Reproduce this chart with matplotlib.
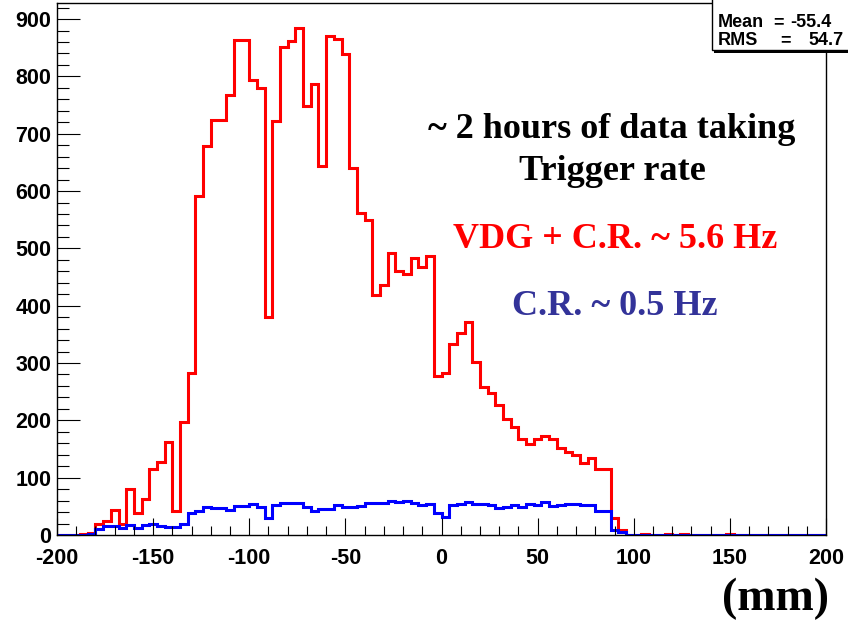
import numpy as np
import matplotlib
matplotlib.use("Agg")
import matplotlib.pyplot as plt
from matplotlib.patches import Rectangle
from matplotlib.ticker import MultipleLocator

# ---- data (4 mm bins from -200 to 200 mm) ----
x_min, x_max, bin_width = -200, 200, 4
red_counts = [0, 0, 0, 2, 4, 20, 24, 44, 20, 81,
              38, 62, 116, 128, 162, 42, 197, 282, 592, 679,
              724, 724, 768, 863, 863, 793, 779, 381, 722, 852,
              862, 884, 749, 787, 643, 871, 865, 839, 640, 562,
              550, 419, 436, 492, 461, 455, 484, 467, 486, 278,
              282, 333, 353, 372, 301, 259, 247, 226, 202, 189,
              167, 158, 167, 172, 167, 152, 144, 140, 126, 134,
              115, 115, 29, 9, 0, 0, 2, 0, 0, 2,
              0, 2, 0, 0, 0, 0, 0, 2, 0, 0,
              0, 0, 0, 0, 0, 0, 0, 0, 0, 0]
blue_counts = [0, 0, 0, 0, 2, 10, 16, 15, 13, 17,
               12, 17, 20, 16, 14, 14, 20, 38, 41, 48,
               47, 47, 44, 51, 51, 54, 48, 30, 52, 55,
               55, 55, 48, 42, 46, 46, 52, 48, 48, 51,
               56, 56, 56, 60, 57, 60, 55, 52, 54, 39,
               32, 52, 54, 58, 54, 54, 52, 47, 48, 52,
               48, 54, 52, 58, 51, 52, 54, 54, 52, 52,
               41, 41, 9, 6, 0, 0, 0, 0, 0, 0,
               0, 0, 0, 0, 0, 0, 0, 0, 0, 0,
               0, 0, 0, 0, 0, 0, 0, 0, 0, 0]
y_max = 928
x_ticks = [-200, -150, -100, -50, 0, 50, 100, 150, 200]
y_ticks = [0, 100, 200, 300, 400, 500, 600, 700, 800, 900]
stat_labels = ["Mean", "RMS"]
stat_values = ["-55.4", "54.7"]
annotations = ["~ 2 hours of data taking", "Trigger rate",
               "VDG + C.R. ~ 5.6 Hz", "C.R. ~ 0.5 Hz"]
x_unit = "(mm)"

W, H = 848, 620
fig = plt.figure(figsize=(W / 100, H / 100), dpi=100)
ax = fig.add_axes([57 / W, 1 - 535 / H, (826 - 57) / W, (535 - 3) / H])

edges = np.arange(x_min, x_max + bin_width, bin_width)
ax.stairs(red_counts, edges, color="#ff0000", lw=2.2, baseline=0)
ax.stairs(blue_counts, edges, color="#0000ff", lw=2.2, baseline=0)

ax.set_xlim(x_min, x_max)
ax.set_ylim(0, y_max)
ax.set_xticks(x_ticks)
ax.set_yticks(y_ticks)
ax.xaxis.set_minor_locator(MultipleLocator(10))
ax.yaxis.set_minor_locator(MultipleLocator(20))
tick_font = dict(family="Liberation Sans", weight="bold", size=15.5)
ax.set_xticklabels([str(t) for t in x_ticks], fontdict=tick_font)
ax.set_yticklabels([str(t) for t in y_ticks], fontdict=tick_font)
ax.tick_params(axis="x", which="major", direction="in", length=12.2, width=0.8, pad=9)
ax.tick_params(axis="x", which="minor", direction="in", length=6.5, width=0.8)
ax.tick_params(axis="y", which="major", direction="in", length=16.6, width=0.8, pad=4)
ax.tick_params(axis="y", which="minor", direction="in", length=8.6, width=0.8)
for s in ax.spines.values():
    s.set_linewidth(1.0)
    s.set_color("black")

serif = dict(family="Liberation Serif", weight="bold")

def fx(px):
    return px / W

def fy(py):
    return 1 - py / H

fig.text(fx(612), fy(138), annotations[0], ha="center", va="baseline", size=26, color="black", **serif)
fig.text(fx(612), fy(180), annotations[1], ha="center", va="baseline", size=26, color="black", **serif)
fig.text(fx(615), fy(248), annotations[2], ha="center", va="baseline", size=26, color="#ff0000", **serif)
fig.text(fx(615), fy(315), annotations[3], ha="center", va="baseline", size=26, color="#333399", **serif)
fig.text(fx(829), fy(610), x_unit, ha="right", va="baseline", size=33, color="black", **serif)

# stats box (partially outside the canvas, as in the reference)
shadow = Rectangle((fx(714), fy(53)), fx(200), fy(-10) - fy(53), transform=fig.transFigure,
                   facecolor="black", edgecolor="black", lw=0, zorder=5)
box = Rectangle((fx(712), fy(50)), fx(200), fy(-10) - fy(50), transform=fig.transFigure,
                facecolor="white", edgecolor="black", lw=1.0, zorder=6)
fig.patches.extend([shadow, box])
stat_font = dict(family="Liberation Sans", weight="bold", size=13)
eq_x = [773, 780]
val_x = [790, 808]
base_y = [27, 45]
for lab, val, ex, vx, yb in zip(stat_labels, stat_values, eq_x, val_x, base_y):
    fig.text(fx(718), fy(yb), lab, ha="left", va="baseline", zorder=7, **stat_font)
    fig.text(fx(ex), fy(yb), "=", ha="left", va="baseline", zorder=7, **stat_font)
    fig.text(fx(vx), fy(yb), val, ha="left", va="baseline", zorder=7, **stat_font)

fig.savefig("out.png", dpi=100)
